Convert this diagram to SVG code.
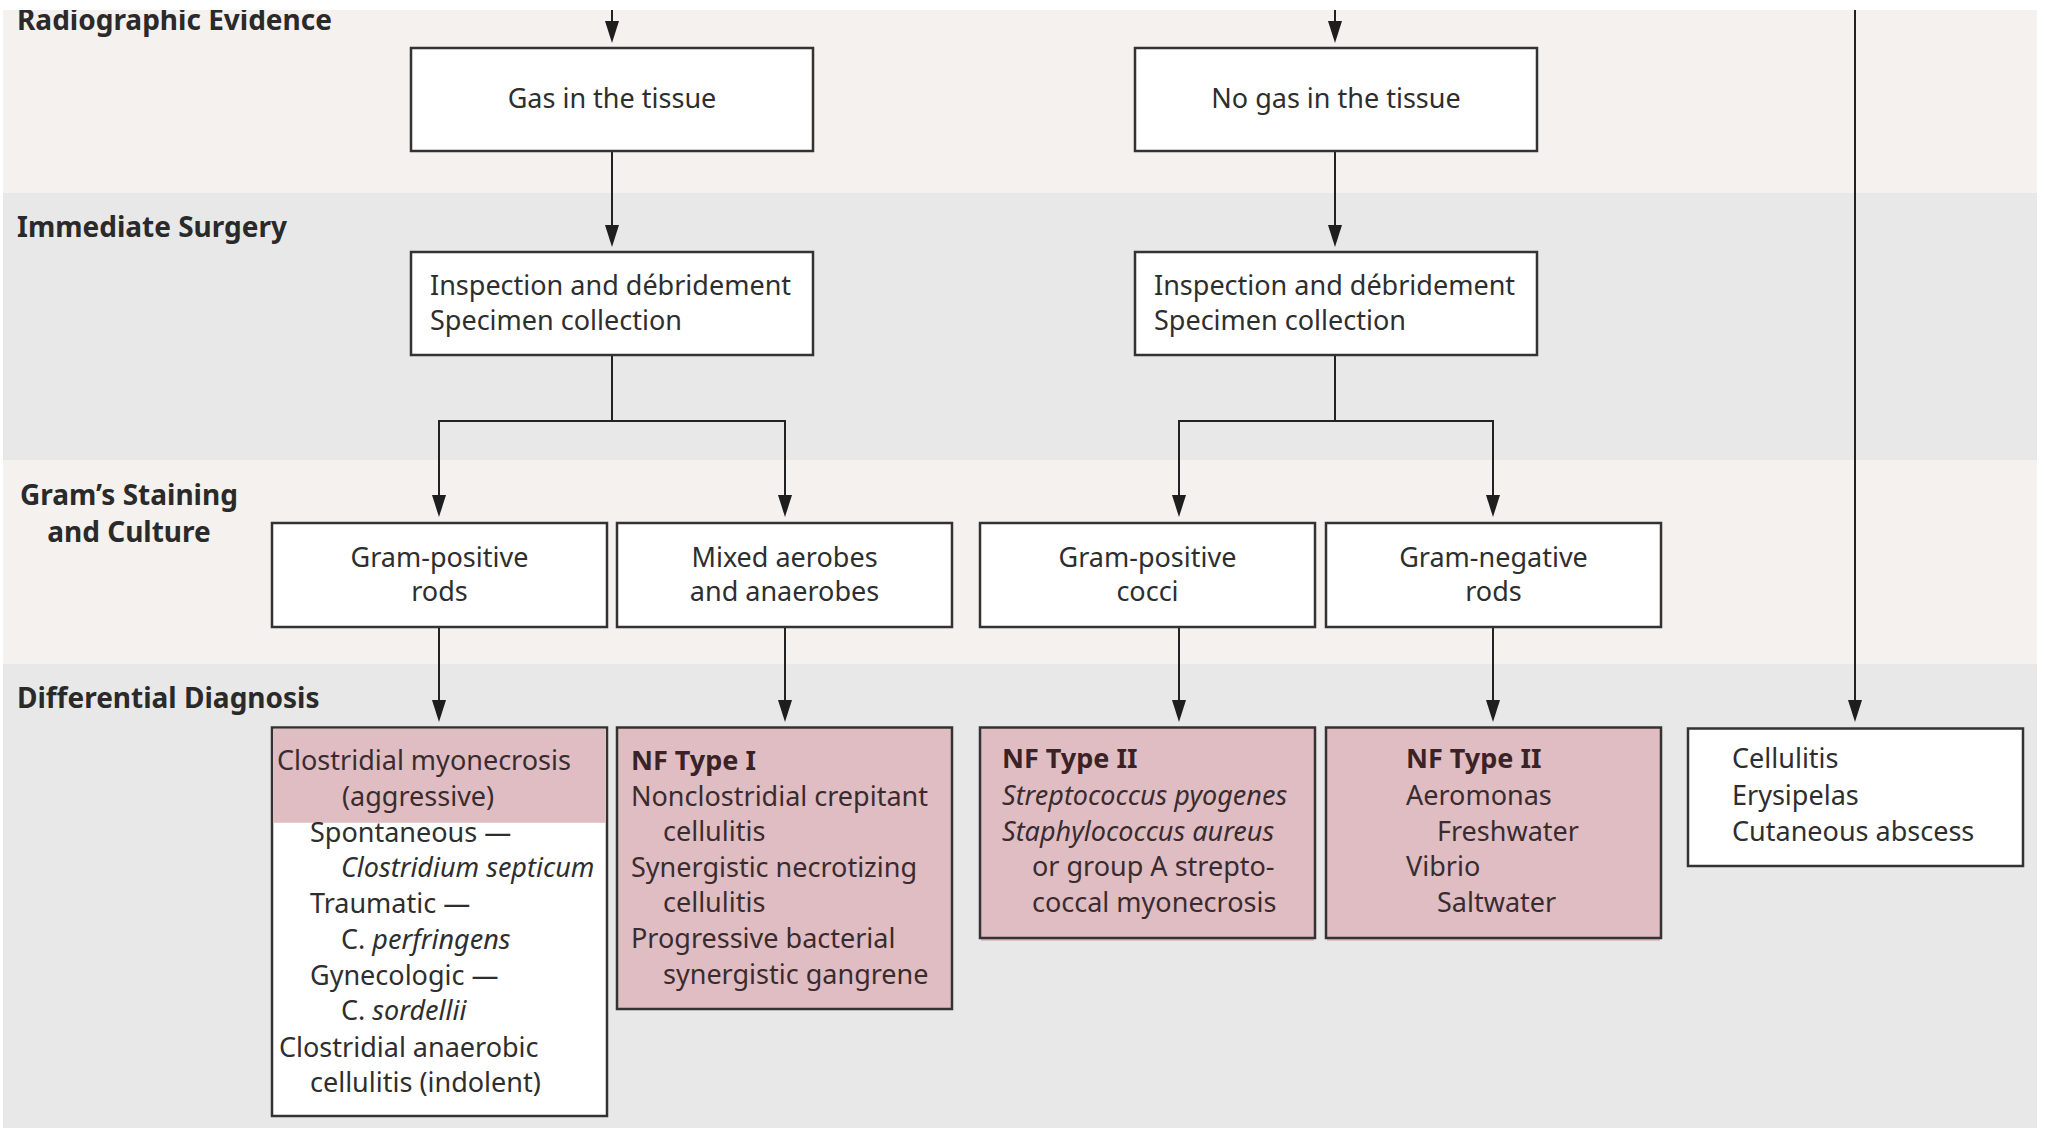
<svg xmlns="http://www.w3.org/2000/svg" width="2046" height="1131" viewBox="0 0 2046 1131">
<defs>
<style>
.band1{fill:#f4f1ef}
.band2{fill:#e8e8e8}
.lbl{font-family:"Noto Sans","Liberation Sans",sans-serif;font-weight:bold;font-size:28px;fill:#2a2a2a}
.box{fill:#ffffff;stroke:#333333;stroke-width:2.5}
.pbox{fill:#dfbdc3;stroke:#333333;stroke-width:2.5}
.t{font-family:"Noto Sans","Liberation Sans",sans-serif;font-size:27px;fill:#2e2e2e}
.tp{font-family:"Noto Sans","Liberation Sans",sans-serif;font-size:27px;fill:#3a2c2e}
.c{text-anchor:middle}
.b{font-weight:bold;fill:#3a2226}
.i{font-style:italic}
.ln{fill:none;stroke:#222222;stroke-width:2}
</style>
<marker id="ah" viewBox="0 0 22 14" refX="12" refY="7" markerWidth="22" markerHeight="14" markerUnits="userSpaceOnUse" orient="auto">
<path d="M0,0 L22,7 L0,14 z" fill="#1e1e1e"/>
</marker>
<clipPath id="topclip"><rect x="0" y="10" width="2046" height="1121"/></clipPath>
</defs>
<rect x="0" y="0" width="2046" height="1131" fill="#ffffff"/>
<g id="bands">
<rect class="band1" x="3" y="10" width="2034" height="183"/>
<rect class="band2" x="3" y="193" width="2034" height="267"/>
<rect class="band1" x="3" y="460" width="2034" height="204"/>
<rect class="band2" x="3" y="664" width="2034" height="464"/>
</g>
<g id="labels">
<text class="lbl" x="17" y="30" clip-path="url(#topclip)">Radiographic Evidence</text>
<text class="lbl" x="17" y="237">Immediate Surgery</text>
<text class="lbl" x="129" y="505" text-anchor="middle">Gram’s Staining</text>
<text class="lbl" x="129" y="542" text-anchor="middle">and Culture</text>
<text class="lbl" x="17" y="708">Differential Diagnosis</text>
</g>
<g id="connectors">
<line class="ln" x1="612" y1="10" x2="612" y2="33" marker-end="url(#ah)"/>
<line class="ln" x1="1335" y1="10" x2="1335" y2="33" marker-end="url(#ah)"/>
<line class="ln" x1="1855" y1="10" x2="1855" y2="712" marker-end="url(#ah)"/>
<line class="ln" x1="612" y1="151" x2="612" y2="237" marker-end="url(#ah)"/>
<line class="ln" x1="1335" y1="151" x2="1335" y2="237" marker-end="url(#ah)"/>
<line class="ln" x1="612" y1="355" x2="612" y2="421"/>
<path class="ln" d="M613,421 H439 V507" marker-end="url(#ah)"/>
<path class="ln" d="M611,421 H785 V507" marker-end="url(#ah)"/>
<line class="ln" x1="1335" y1="355" x2="1335" y2="421"/>
<path class="ln" d="M1336,421 H1179 V507" marker-end="url(#ah)"/>
<path class="ln" d="M1334,421 H1493 V507" marker-end="url(#ah)"/>
<line class="ln" x1="439" y1="627" x2="439" y2="712" marker-end="url(#ah)"/>
<line class="ln" x1="785" y1="627" x2="785" y2="712" marker-end="url(#ah)"/>
<line class="ln" x1="1179" y1="627" x2="1179" y2="712" marker-end="url(#ah)"/>
<line class="ln" x1="1493" y1="627" x2="1493" y2="712" marker-end="url(#ah)"/>
</g>
<g id="gas">
<rect class="box" x="411" y="48" width="402" height="103"/>
<text class="t c" x="612" y="108">Gas in the tissue</text>
</g>
<g id="nogas">
<rect class="box" x="1135" y="48" width="402" height="103"/>
<text class="t c" x="1336" y="108">No gas in the tissue</text>
</g>
<g id="inspect1">
<rect class="box" x="411" y="252" width="402" height="103"/>
<text class="t" x="430" y="295">Inspection and débridement</text>
<text class="t" x="430" y="330">Specimen collection</text>
</g>
<g id="inspect2">
<rect class="box" x="1135" y="252" width="402" height="103"/>
<text class="t" x="1154" y="295">Inspection and débridement</text>
<text class="t" x="1154" y="330">Specimen collection</text>
</g>
<g id="gpr">
<rect class="box" x="272" y="523" width="335" height="104"/>
<text class="t c" x="439.5" y="567">Gram-positive</text>
<text class="t c" x="439.5" y="601">rods</text>
</g>
<g id="mixed">
<rect class="box" x="617" y="523" width="335" height="104"/>
<text class="t c" x="784.5" y="567">Mixed aerobes</text>
<text class="t c" x="784.5" y="601">and anaerobes</text>
</g>
<g id="gpc">
<rect class="box" x="980" y="523" width="335" height="104"/>
<text class="t c" x="1147.5" y="567">Gram-positive</text>
<text class="t c" x="1147.5" y="601">cocci</text>
</g>
<g id="gnr">
<rect class="box" x="1326" y="523" width="335" height="104"/>
<text class="t c" x="1493.5" y="567">Gram-negative</text>
<text class="t c" x="1493.5" y="601">rods</text>
</g>
<g id="clostridial">
<rect class="box" x="272" y="727.5" width="335" height="388.5"/>
<rect x="273.3" y="728.8" width="332.4" height="94" fill="#dfbdc3"/>
<text class="tp" x="277" y="770">Clostridial myonecrosis</text>
<text class="tp" x="342" y="806">(aggressive)</text>
<text class="t" x="310" y="841.5">Spontaneous —</text>
<text class="t i" x="341" y="877">Clostridium septicum</text>
<text class="t" x="310" y="913">Traumatic —</text>
<text class="t" x="341" y="948.5">C. <tspan class="i">perfringens</tspan></text>
<text class="t" x="310" y="984.5">Gynecologic —</text>
<text class="t" x="341" y="1020">C. <tspan class="i">sordellii</tspan></text>
<text class="t" x="279" y="1056.5">Clostridial anaerobic</text>
<text class="t" x="310" y="1092">cellulitis (indolent)</text>
</g>
<g id="nf1">
<rect class="pbox" x="617" y="727.5" width="335" height="281.5"/>
<text class="tp b" x="631" y="770">NF Type I</text>
<text class="tp" x="631" y="805.5">Nonclostridial crepitant</text>
<text class="tp" x="663" y="841">cellulitis</text>
<text class="tp" x="631" y="876.5">Synergistic necrotizing</text>
<text class="tp" x="663" y="912">cellulitis</text>
<text class="tp" x="631" y="948">Progressive bacterial</text>
<text class="tp" x="663" y="983.5">synergistic gangrene</text>
</g>
<g id="nf2a">
<rect x="981" y="938" width="333" height="3" fill="#dfbdc3"/>
<rect class="pbox" x="980" y="727.5" width="335" height="210.5"/>
<text class="tp b" x="1002" y="768">NF Type II</text>
<text class="tp i" x="1002" y="805">Streptococcus pyogenes</text>
<text class="tp i" x="1002" y="840.5">Staphylococcus aureus</text>
<text class="tp" x="1032" y="876">or group A strepto-</text>
<text class="tp" x="1032" y="912">coccal myonecrosis</text>
</g>
<g id="nf2b">
<rect x="1327" y="938" width="333" height="3" fill="#dfbdc3"/>
<rect class="pbox" x="1326" y="727.5" width="335" height="210.5"/>
<text class="tp b" x="1406" y="768">NF Type II</text>
<text class="tp" x="1406" y="805">Aeromonas</text>
<text class="tp" x="1437" y="840.5">Freshwater</text>
<text class="tp" x="1406" y="876">Vibrio</text>
<text class="tp" x="1437" y="912">Saltwater</text>
</g>
<g id="cellulitis">
<rect class="box" x="1688" y="728.5" width="335" height="137.5"/>
<text class="t" x="1732" y="768">Cellulitis</text>
<text class="t" x="1732" y="805">Erysipelas</text>
<text class="t" x="1732" y="840.5">Cutaneous abscess</text>
</g>
</svg>
